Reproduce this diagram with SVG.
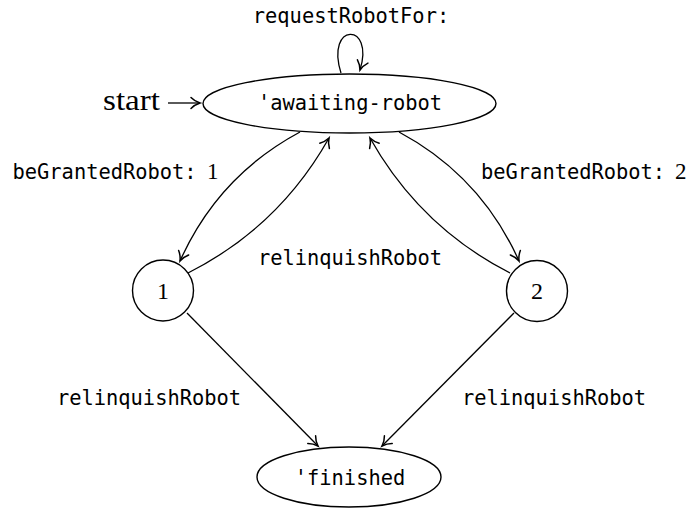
<svg xmlns="http://www.w3.org/2000/svg" width="690" height="508" viewBox="0 0 690 508">
  <style>
    .node { fill: none; stroke: #000; stroke-width: 1.4; }
    .edge { fill: none; stroke: #000; stroke-width: 1.3; marker-end: url(#arrow); }
    .mono { font-family: "DejaVu Sans Mono", "Liberation Mono", monospace; font-size: 20.4px; fill: #000; }
    .serif { font-family: "Liberation Serif", "DejaVu Serif", serif; fill: #000; }
  </style>
  <defs>
    <marker id="arrow" markerUnits="userSpaceOnUse" markerWidth="16" markerHeight="16" viewBox="-11 -8 13 16" refX="0" refY="0" orient="auto">
      <path d="M -9 -5.5 C -6 -2.4 -2.2 -0.7 0 0 C -2.2 0.7 -6 2.4 -9 5.5" fill="none" stroke="#000" stroke-width="1.5" stroke-linecap="round"/>
    </marker>
  </defs>

  <rect width="690" height="508" fill="#fff"/>

  <!-- states -->
  <g id="awaiting-robot">
    <ellipse class="node" cx="349.5" cy="103.5" rx="146.5" ry="29.5"/>
    <text class="mono" x="350" y="110" text-anchor="middle">'awaiting-robot</text>
  </g>
  <g id="state-1">
    <circle class="node" cx="163" cy="290.5" r="30.5"/>
    <text class="serif" x="163" y="299" font-size="24" text-anchor="middle">1</text>
  </g>
  <g id="state-2">
    <circle class="node" cx="537" cy="291" r="30.5"/>
    <text class="serif" x="537" y="299" font-size="24" text-anchor="middle">2</text>
  </g>
  <g id="finished">
    <ellipse class="node" cx="349" cy="477" rx="92" ry="30"/>
    <text class="mono" x="350" y="485" text-anchor="middle">'finished</text>
  </g>
  <g id="start">
    <text class="serif" x="103" y="110" font-size="29" textLength="57" lengthAdjust="spacingAndGlyphs">start</text>
  </g>

  <!-- transitions -->
  <g id="connectors">
    <path class="edge" d="M 168 103 L 200 103"/>
    <path class="edge" d="M 341 73 C 325 22 375 22 360 70"/>
    <path class="edge" d="M 300 132 Q 218 176 180 261"/>
    <path class="edge" d="M 188 273 Q 279 227 329 138"/>
    <path class="edge" d="M 399 132 Q 481 176 519 261"/>
    <path class="edge" d="M 510 273 Q 420 227 370 138"/>
    <path class="edge" d="M 187 313 L 318 446"/>
    <path class="edge" d="M 514 313 L 382 446"/>
  </g>

  <!-- transition labels -->
  <g id="labels">
    <text class="mono" x="351" y="23" text-anchor="middle">requestRobotFor:</text>
    <text x="12.5" y="179"><tspan class="mono">beGrantedRobot:</tspan><tspan class="serif" x="207" font-size="23">1</tspan></text>
    <text x="481" y="179"><tspan class="mono">beGrantedRobot:</tspan><tspan class="serif" x="675" font-size="23">2</tspan></text>
    <text class="mono" x="350" y="265" text-anchor="middle">relinquishRobot</text>
    <text class="mono" x="149" y="405" text-anchor="middle">relinquishRobot</text>
    <text class="mono" x="554" y="405" text-anchor="middle">relinquishRobot</text>
  </g>
</svg>
